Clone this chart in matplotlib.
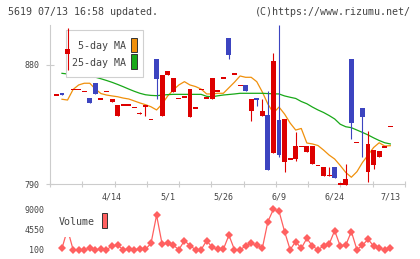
import numpy as np
import matplotlib
matplotlib.use("Agg")
import matplotlib.pyplot as plt
from matplotlib.patches import Rectangle

# ---------------- data ----------------
opens = [857.1, 858.6, 888.1, 861.6, 861.6, 860.0, 854.8, 866.2, 854.1, 860.0,
         852.2, 841.7, 849.7, 849.7, 848.0, 843.3, 847.9, 838.9, 884.5, 841.7,
         872.4, 859.6, 854.8, 855.6, 840.9, 847.3, 861.6, 855.2, 854.5, 860.2,
         870.0, 900.4, 873.0, 864.6, 864.6, 845.4, 855.2, 841.7, 842.2, 813.7,
         838.4, 806.9, 808.8, 808.9, 818.5, 814.4, 805.1, 804.1, 796.3, 796.4,
         802.9, 789.8, 789.2, 884.5, 821.5, 847.5, 799.3, 804.7, 810.6, 818.2,
         833.6]
closes = [857.1, 857.3, 892.1, 861.6, 861.6, 860.0, 850.9, 858.3, 854.1, 860.0,
          854.3, 849.7, 849.7, 849.7, 848.0, 843.3, 849.7, 838.9, 869.4, 872.4,
          875.5, 870.2, 854.8, 855.6, 861.8, 847.3, 861.6, 855.2, 870.0, 860.2,
          870.0, 887.8, 873.0, 864.6, 860.6, 854.3, 853.8, 845.4, 800.6, 883.0,
          811.9, 839.2, 808.8, 818.7, 818.5, 818.7, 818.7, 804.1, 802.9, 796.4,
          794.8, 789.8, 793.8, 836.4, 821.5, 840.9, 820.3, 815.7, 815.0, 818.2,
          833.6]
highs = [857.1, 858.6, 907.8, 861.6, 861.6, 860.0, 854.8, 866.2, 854.1, 860.0,
         854.3, 849.7, 849.7, 849.7, 848.0, 844.7, 849.7, 838.9, 884.5, 872.4,
         875.5, 870.2, 854.8, 855.6, 861.8, 847.3, 861.6, 855.2, 870.0, 860.2,
         870.0, 900.4, 873.0, 864.6, 864.6, 854.3, 855.2, 854.3, 860.3, 889.1,
         910.3, 839.2, 808.8, 829.6, 818.5, 818.7, 818.7, 804.1, 802.9, 802.5,
         802.9, 789.8, 805.0, 884.5, 821.5, 847.5, 830.1, 815.7, 815.0, 818.2,
         833.6]
lows = [857.1, 857.3, 876.2, 861.6, 861.6, 860.0, 850.9, 858.3, 854.1, 860.0,
        852.2, 841.7, 849.7, 849.7, 848.0, 843.3, 841.7, 838.9, 854.1, 841.7,
        872.4, 859.6, 854.8, 855.6, 840.9, 847.3, 861.6, 855.2, 854.5, 860.2,
        870.0, 884.8, 873.0, 864.6, 860.6, 837.6, 849.2, 841.7, 800.6, 813.7,
        810.6, 799.3, 808.8, 807.4, 818.5, 814.4, 805.1, 804.1, 796.3, 796.4,
        794.8, 789.8, 789.2, 824.0, 821.5, 810.4, 791.7, 801.1, 810.6, 818.2,
        833.6]
nan = float("nan")
ma5 = [nan, 854.1, 853.5, 861.5, 864.9, 866.2, 866.2, 861.8, 858.4, 857.3,
       856.6, 856.0, 855.0, 854.3, 852.8, 851.3, 850.0, 848.4, 846.0, 850.5,
       856.6, 861.1, 864.9, 867.4, 864.9, 863.7, 861.8, 858.1, 858.1, 858.6,
       858.6, 862.8, 867.0, 871.7, 870.7, 870.7, 867.4, 859.6, 850.5, 843.7,
       848.2, 842.9, 836.1, 830.8, 832.0, 821.0, 820.3, 819.1, 815.7, 811.9,
       808.9, 804.0, 798.7, 795.1, 799.3, 806.3, 811.9, 817.6, 821.2, 818.7,
       819.0]
ma25 = [nan, 873.7, 873.2, 872.7, 872.2, 871.7, 871.2, 870.8, 869.6, 868.3,
        866.9, 865.3, 863.6, 861.8, 860.1, 858.6, 857.5, 857.0, 856.8, 857.2,
        857.6, 857.8, 857.8, 857.8, 857.8, 857.8, 857.8, 856.3, 856.0, 856.7,
        857.3, 857.7, 858.1, 858.6, 858.6, 858.6, 858.6, 858.6, 858.4, 858.2,
        858.1, 856.6, 855.6, 854.7, 852.4, 850.7, 848.2, 846.0, 844.1, 841.8,
        839.2, 835.2, 833.3, 832.6, 830.8, 829.0, 827.1, 824.9, 822.9, 821.2,
        820.3]
volume = [nan, 400, 4600, 100, 100, 100, 400, 100, 200, 100,
          900, 1100, 100, 200, 100, 200, 200, 1500, 7700, 1300,
          1600, 1100, 100, 2100, 1000, 100, 100, 2100, 600, 200,
          200, 3300, 100, 100, 900, 1500, 1100, 400, 6300, 9000,
          8600, 4100, 100, 1900, 400, 2600, 900, 100, 900, 1300,
          4300, 900, 1100, 4100, 100, 1100, 2400, 900, 400, 100,
          400]
date_idx = [10, 20, 30, 40, 50, 60]
date_labels = ["4/14", "5/1", "5/26", "6/9", "6/24", "7/13"]
price_ticks = [790, 880]
vol_ticks = [100, 4550, 9000]
vol_tick_labels = ["100", "4550", "9000"]

# ---------------- style ----------------
W, H = 420, 259
MONO = "DejaVu Sans Mono"
TXT = "#444444"
GRID = "#cccccc"
RED = "#dd0000"
BLUE = "#3c44c0"
ORANGE = "#f0900c"
GREEN = "#18a818"
VOLC = "#ff6060"

fig = plt.figure(figsize=(W / 100, H / 100), dpi=100)
fig.patch.set_facecolor("white")

def fig_rect(x0, y0, x1, y1):
    return [x0 / W, 1 - y1 / H, (x1 - x0) / W, (y1 - y0) / H]

ax = fig.add_axes(fig_rect(50, 25, 405, 184))
vax = fig.add_axes(fig_rect(50, 209.3, 405, 249.7))

x = np.arange(len(opens))
o = np.array(opens); c = np.array(closes)
hi = np.array(highs); lo = np.array(lows)

xlim = (-1.151, 62.64)
ylim = (790.0, 910.25)
ax.set_xlim(*xlim)
ax.set_ylim(*ylim)

px_per_price = 159 / (ylim[1] - ylim[0])
min_h = 1.6 / px_per_price

up = c >= o
colors = np.where(up, RED, BLUE)
body_bot = np.minimum(o, c)
body_h = np.maximum(np.abs(c - o), min_h)
body_bot = np.where(np.abs(c - o) < min_h, body_bot - min_h / 2, body_bot)

ax.vlines(x, lo, hi, colors=colors, lw=0.8, zorder=4, clip_on=False)
ax.bar(x, body_h, bottom=body_bot, width=0.88, color=colors, lw=0,
       zorder=4, clip_on=False)

ax.plot(x, ma5, color=ORANGE, lw=0.9, zorder=2)
ax.plot(x, ma25, color=GREEN, lw=0.9, zorder=2)

# spines / ticks
for s in ["top", "right"]:
    ax.spines[s].set_visible(False)
for s in ["left", "bottom"]:
    ax.spines[s].set_color(GRID)
    ax.spines[s].set_linewidth(0.8)
ax.set_xticks(np.linspace(xlim[0], xlim[1], 12))
ax.set_xticklabels([])
ax.set_yticks(price_ticks)
ax.set_yticklabels([str(v) for v in price_ticks])
ax.tick_params(axis="x", direction="inout", length=4.8, width=0.8, color=GRID)
ax.tick_params(axis="y", direction="inout", length=6.0, width=0.8, color=GRID,
               pad=4.6, labelsize=6.0, labelcolor=TXT)
for t in ax.get_yticklabels():
    t.set_fontfamily(MONO)
for i, lab in zip(date_idx, date_labels):
    ax.text(i, -0.084, lab, transform=ax.get_xaxis_transform(), ha="center",
            va="center", fontsize=6.0, family=MONO, color=TXT)

# legend (manual, axes coords)
def ax_rect(a, x0, y0, x1, y1, top, bottom):
    h = bottom - top
    return ((x0 - 50) / 355, (bottom - y1) / h, (x1 - x0) / 355, (y1 - y0) / h)

bx, by, bw, bh = ax_rect(ax, 65.7, 30, 143.3, 77.3, 25, 184)
ax.add_patch(Rectangle((bx, by), bw, bh, transform=ax.transAxes,
                       facecolor="white", edgecolor="#d0d0d0", lw=0.8, zorder=3))
for lab, col, yc, (py0, py1) in [("5-day MA", ORANGE, 46.0, (37.7, 51.7)),
                                   ("25-day MA", GREEN, 63.3, (54.3, 69.0))]:
    ax.text((126.5 - 50) / 355, (184 - yc) / 159, lab, transform=ax.transAxes,
            ha="right", va="center", fontsize=7.2, family=MONO, color=TXT,
            zorder=3)
    rx, ry, rw, rh = ax_rect(ax, 131, py0, 137.3, py1, 25, 184)
    ax.add_patch(Rectangle((rx, ry), rw, rh, transform=ax.transAxes,
                           facecolor=col, edgecolor="#333333", lw=0.7, zorder=3))

# ---------------- volume ----------------
vax.set_xlim(*xlim)
vax.set_ylim(100, 9000)
vax.plot(x, volume, color=VOLC, lw=0.9, marker="D", markersize=4.2,
         markeredgewidth=0, clip_on=False, zorder=2)
for s in vax.spines.values():
    s.set_visible(False)
vax.set_xticks([])
vax.set_yticks(vol_ticks)
vax.set_yticklabels(vol_tick_labels)
vax.tick_params(axis="y", length=0, pad=4.1, labelsize=6.0, labelcolor=TXT)
for t in vax.get_yticklabels():
    t.set_fontfamily(MONO)
vb = 249.7 - 209.3
vax.add_patch(Rectangle(((55 - 50) / 355, (249.7 - 236.5) / vb),
                        (110 - 55) / 355, (236.5 - 205) / vb,
                        transform=vax.transAxes, facecolor="white",
                        edgecolor="none", zorder=3, clip_on=False))
vax.text((94.3 - 50) / 355, (249.7 - 222.3) / vb, "Volume",
         transform=vax.transAxes, ha="right", va="center", fontsize=7.2,
         family=MONO, color=TXT, zorder=4)
vax.add_patch(Rectangle(((101.7 - 50) / 355, (249.7 - 228.3) / vb),
                        5.6 / 355, 15 / vb, transform=vax.transAxes,
                        facecolor=VOLC, edgecolor="#333333", lw=0.7,
                        zorder=4, clip_on=False))

# ---------------- header ----------------
fig.text(8.0 / W, 1 - 12.3 / H, "5619 07/13 16:58 updated.", ha="left",
         va="center", fontsize=7.2, family=MONO, color=TXT)
fig.text(410.5 / W, 1 - 12.3 / H, "(C)https://www.rizumu.net/", ha="right",
         va="center", fontsize=7.2, family=MONO, color=TXT)

fig.savefig("out.png", dpi=100, facecolor="white")
